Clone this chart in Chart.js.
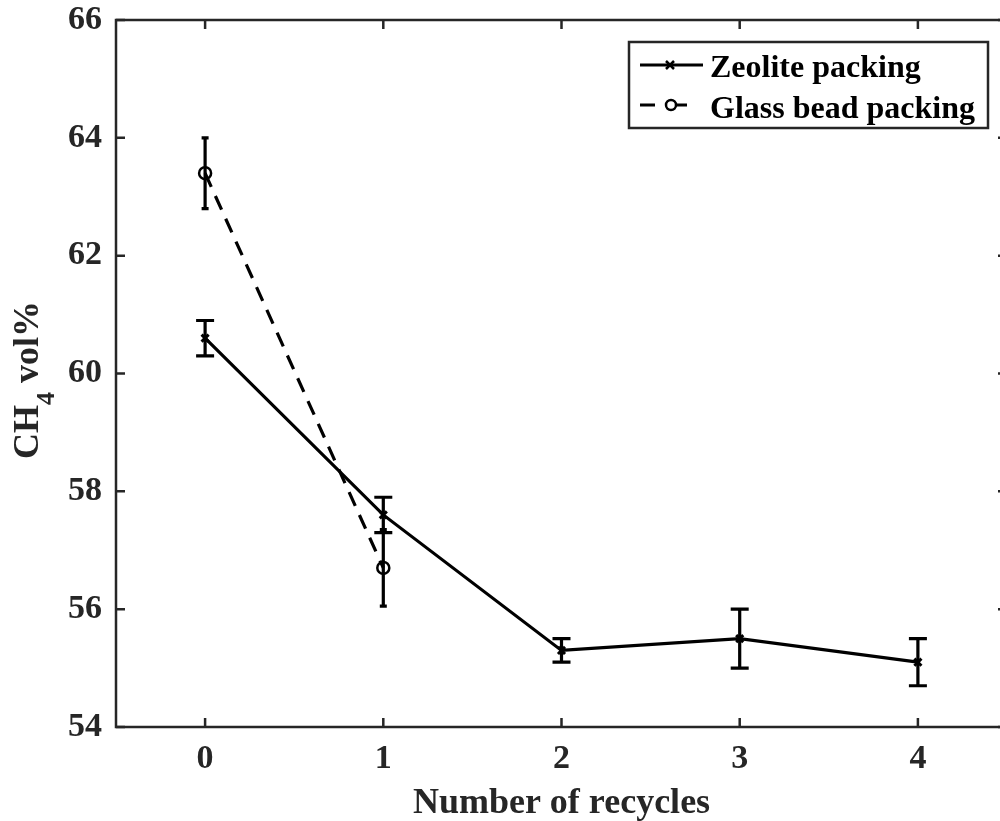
<!DOCTYPE html>
<html>
<head>
<meta charset="utf-8">
<script src="https://cdn.jsdelivr.net/npm/chart.js@4/dist/chart.umd.min.js"></script>
<style>
  html, body { margin: 0; padding: 0; background: #ffffff; overflow: hidden; }
  #wrap { width: 1020px; height: 821px; }
</style>
</head>
<body>
<div id="wrap"><canvas id="c" width="1020" height="821"></canvas></div>
<script>
// Recycle number on the x axis
const cycles = [0, 1, 2, 3, 4];

// Zeolite packing: mean CH4 content and error half-width
const zeoliteMean = [60.6, 57.6, 55.3, 55.5, 55.1];
const zeoliteErr  = [0.3, 0.3, 0.2, 0.5, 0.4];

// Glass bead packing: only two runs
const glassCycles = [0, 1];
const glassMean   = [63.4, 56.7];
const glassErr    = [0.6, 0.65];

// Tick labels
const xTickValues = [0, 1, 2, 3, 4];
const yTickValues = [54, 56, 58, 60, 62, 64, 66];

const seriesNames = ['Zeolite packing', 'Glass bead packing'];
const xTitle = 'Number of recycles';

const FONT = "'Liberation Serif', 'Times New Roman', serif";
const AXIS = '#262626';
const INK = '#000000';

function toPoints(xs, ys) {
  return xs.map((x, i) => ({ x: x, y: ys[i] }));
}

// Box axes with inward ticks on all four sides
const frame = {
  id: 'frame',
  afterDatasetsDraw(chart) {
    const { ctx, chartArea: a, scales } = chart;
    ctx.save();
    ctx.strokeStyle = AXIS;
    ctx.lineWidth = 2.5;
    ctx.strokeRect(a.left, a.top, a.right - a.left, a.bottom - a.top);
    const tl = 9;
    ctx.beginPath();
    xTickValues.forEach(v => {
      const px = scales.x.getPixelForValue(v);
      ctx.moveTo(px, a.bottom); ctx.lineTo(px, a.bottom - tl);
      ctx.moveTo(px, a.top);    ctx.lineTo(px, a.top + tl);
    });
    yTickValues.forEach(v => {
      const py = scales.y.getPixelForValue(v);
      ctx.moveTo(a.left, py);  ctx.lineTo(a.left + tl, py);
      ctx.moveTo(a.right, py); ctx.lineTo(a.right - tl, py);
    });
    ctx.stroke();
    ctx.restore();
  }
};

// Vertical error bars with caps
const errorBars = {
  id: 'errorBars',
  afterDatasetsDraw(chart) {
    const { ctx, scales } = chart;
    ctx.save();
    ctx.strokeStyle = INK;
    ctx.lineWidth = 3.2;
    ctx.lineCap = 'butt';
    chart.data.datasets.forEach(ds => {
      const errs = ds.errors;
      const cap = ds.capHalf;
      ds.data.forEach((p, i) => {
        const px = scales.x.getPixelForValue(p.x);
        const yHi = scales.y.getPixelForValue(p.y + errs[i]);
        const yLo = scales.y.getPixelForValue(p.y - errs[i]);
        ctx.beginPath();
        ctx.moveTo(px, yHi); ctx.lineTo(px, yLo);
        ctx.moveTo(px - cap, yHi); ctx.lineTo(px + cap, yHi);
        ctx.moveTo(px - cap, yLo); ctx.lineTo(px + cap, yLo);
        ctx.stroke();
      });
    });
    ctx.restore();
  }
};

// Axis titles and the boxed legend
const annotations = {
  id: 'annotations',
  afterDraw(chart) {
    const { ctx, chartArea: a } = chart;
    ctx.save();
    ctx.fillStyle = AXIS;

    // x title
    ctx.font = 'bold 36px ' + FONT;
    ctx.textAlign = 'center';
    ctx.textBaseline = 'alphabetic';
    ctx.fillText(xTitle, (a.left + a.right) / 2, 813);

    // y title with subscript, rotated
    ctx.save();
    ctx.translate(38, 380);
    ctx.rotate(-Math.PI / 2);
    const big = 'bold 36px ' + FONT;
    const small = 'bold 26px ' + FONT;
    ctx.font = big;
    const wCH = ctx.measureText('CH').width;
    const wRest = ctx.measureText(' vol%').width;
    ctx.font = small;
    const w4 = ctx.measureText('4').width;
    const total = wCH + w4 + wRest;
    const x0 = -total / 2;
    ctx.textAlign = 'left';
    ctx.font = big;
    ctx.fillText('CH', x0, 0);
    ctx.font = small;
    ctx.fillText('4', x0 + wCH, 16);
    ctx.font = big;
    ctx.fillText(' vol%', x0 + wCH + w4, 0);
    ctx.restore();

    // legend
    const L = 629, T = 42, R = 988, B = 128;
    ctx.fillStyle = '#ffffff';
    ctx.fillRect(L, T, R - L, B - T);
    ctx.strokeStyle = AXIS;
    ctx.lineWidth = 2.5;
    ctx.strokeRect(L, T, R - L, B - T);

    const rows = [65, 105];
    ctx.strokeStyle = INK;
    ctx.lineWidth = 3.2;
    // solid sample with cross marker
    ctx.beginPath();
    ctx.moveTo(640, rows[0]); ctx.lineTo(703, rows[0]);
    ctx.stroke();
    ctx.lineWidth = 2.5;
    ctx.beginPath();
    ctx.moveTo(666, rows[0] - 4); ctx.lineTo(674, rows[0] + 4);
    ctx.moveTo(666, rows[0] + 4); ctx.lineTo(674, rows[0] - 4);
    ctx.stroke();
    // dashed sample with open circle
    ctx.lineWidth = 3.2;
    ctx.beginPath();
    ctx.moveTo(640, rows[1]); ctx.lineTo(655, rows[1]);
    ctx.moveTo(676, rows[1]); ctx.lineTo(687, rows[1]);
    ctx.stroke();
    ctx.lineWidth = 2.5;
    ctx.beginPath();
    ctx.arc(671, rows[1], 5, 0, Math.PI * 2);
    ctx.stroke();

    ctx.fillStyle = INK;
    ctx.font = 'bold 32px ' + FONT;
    ctx.textAlign = 'left';
    ctx.textBaseline = 'alphabetic';
    ctx.fillText(seriesNames[0], 710, 77);
    ctx.fillText(seriesNames[1], 710, 118);
    ctx.restore();
  }
};

new Chart(document.getElementById('c'), {
  type: 'line',
  data: {
    datasets: [
      {
        label: seriesNames[0],
        data: toPoints(cycles, zeoliteMean),
        errors: zeoliteErr,
        capHalf: 9,
        borderColor: INK,
        borderWidth: 3.2,
        pointStyle: 'crossRot',
        pointRadius: 5,
        pointBorderWidth: 3,
        pointBorderColor: INK,
        pointBackgroundColor: 'transparent',
        fill: false,
        tension: 0
      },
      {
        label: seriesNames[1],
        data: toPoints(glassCycles, glassMean),
        errors: glassErr,
        capHalf: 3.5,
        borderColor: INK,
        borderWidth: 3.2,
        borderDash: [15, 10],
        pointStyle: 'circle',
        pointRadius: 6,
        pointBorderWidth: 2.5,
        pointBorderColor: INK,
        pointBackgroundColor: 'transparent',
        fill: false,
        tension: 0
      }
    ]
  },
  options: {
    responsive: false,
    animation: false,
    events: [],
    layout: { padding: { top: 20, right: 13, left: 0, bottom: 0 } },
    plugins: { legend: { display: false }, tooltip: { enabled: false } },
    scales: {
      x: {
        type: 'linear',
        min: -0.5,
        max: 4.5,
        afterBuildTicks(scale) { scale.ticks = xTickValues.map(v => ({ value: v })); },
        afterFit(scale) { scale.height = 94; scale.paddingLeft = 0; scale.paddingRight = 0; },
        grid: { display: false, drawTicks: false },
        border: { display: false },
        ticks: {
          color: AXIS,
          padding: 12,
          maxRotation: 0,
          font: { family: FONT, size: 34, weight: 'bold' },
          callback: v => String(v)
        }
      },
      y: {
        type: 'linear',
        min: 54,
        max: 66,
        afterBuildTicks(scale) { scale.ticks = yTickValues.map(v => ({ value: v })); },
        afterFit(scale) { scale.width = 116; scale.paddingTop = 0; scale.paddingBottom = 0; },
        grid: { display: false, drawTicks: false },
        border: { display: false },
        ticks: {
          color: AXIS,
          padding: 14,
          font: { family: FONT, size: 34, weight: 'bold' },
          callback: v => String(v)
        }
      }
    }
  },
  plugins: [frame, errorBars, annotations]
});
</script>
</body>
</html>
